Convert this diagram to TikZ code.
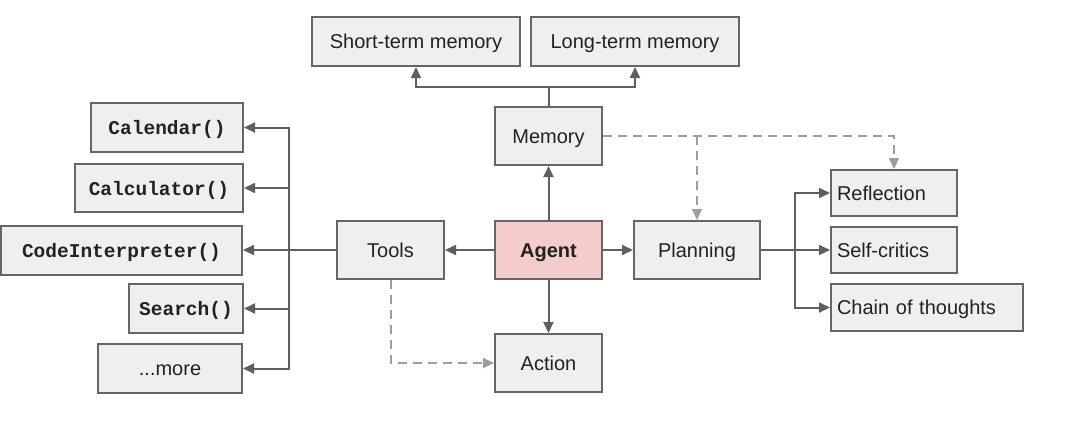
\documentclass[tikz,border=0pt]{standalone}
\usepackage{fontspec}
\setmainfont{Liberation Sans}
\newfontfamily\codefont{Liberation Mono}
\usetikzlibrary{arrows.meta}
\definecolor{boxfill}{HTML}{EFEFEF}
\definecolor{boxline}{HTML}{666666}
\definecolor{arrline}{HTML}{5F5F5F}
\definecolor{dashline}{HTML}{9E9E9E}
\definecolor{agentfill}{HTML}{F4CCCC}
\definecolor{txt}{HTML}{222222}
\begin{document}
\begin{tikzpicture}[x=1pt,y=-1pt,
  box/.style={draw=boxline, fill=boxfill, line width=2pt, inner sep=0pt,
    text=txt, font=\fontsize{20}{24}\selectfont, text height=16pt, text depth=1.7pt},
  lbox/.style={box, align=left, text width=#1, inner xsep=6pt},
  codebox/.style={box, font=\fontsize{19.5}{24}\selectfont\codefont\bfseries},
  arr/.style={draw=arrline, line width=2pt, -{Triangle[length=11pt,width=10pt]}},
  plain/.style={draw=arrline, line width=2pt},
  darr/.style={draw=dashline, line width=2pt, dash pattern=on 9pt off 6pt,
    -{Triangle[length=11pt,width=10pt]}},
  dplain/.style={draw=dashline, line width=2pt, dash pattern=on 9pt off 6pt}
]
\useasboundingbox (0,0) rectangle (1080,426);

% memory group
\node[box, minimum width=208, minimum height=49] (stm) at (416,41.5) {Short-term memory};
\node[box, minimum width=208, minimum height=49] (ltm) at (635,41.5) {Long-term memory};
\node[box, minimum width=107, minimum height=58] (mem) at (548.5,136) {Memory};

% tools group
\node[codebox, minimum width=152, minimum height=49] (cal) at (167,127.5) {Calendar()};
\node[codebox, minimum width=168, minimum height=48] (calc) at (159,188) {Calculator()};
\node[codebox, minimum width=241, minimum height=49] (code) at (121.5,250) {CodeInterpreter()};
\node[codebox, minimum width=114, minimum height=49] (search) at (186,308.5) {Search()};
\node[box, minimum width=144, minimum height=49] (more) at (170,368.5) {...more};
\node[box, minimum width=107, minimum height=58] (tools) at (390.5,250) {Tools};

% center
\node[box, fill=agentfill, minimum width=107, minimum height=58, font=\fontsize{20}{24}\selectfont\bfseries] (agent) at (548.5,250) {Agent};
\node[box, minimum width=126, minimum height=58] (plan) at (697,250) {Planning};
\node[box, minimum width=107, minimum height=58] (action) at (548.5,363) {Action};

% planning group
\node[lbox=114pt, minimum height=46] (refl) at (894,193) {Reflection};
\node[lbox=114pt, minimum height=46] (self) at (894,250) {Self-critics};
\node[lbox=180pt, minimum height=47] (chain) at (927,307.5) {Chain of thoughts};

% bus coordinates
\coordinate (mbus) at (548.5,87);
\coordinate (tbus) at (289,250);
\coordinate (pbus) at (795,250);
\coordinate (dbr) at (697,136);

% memory connectors
\draw[plain] (mem.north) -- (mbus);
\draw[arr] (mbus) -| (stm.south);
\draw[arr] (mbus) -| (ltm.south);

% agent connectors
\draw[arr] (agent.north) -- (mem.south);
\draw[arr] (agent.west) -- (tools.east);
\draw[arr] (agent.east) -- (plan.west);
\draw[arr] (agent.south) -- (action.north);

% tools connectors
\draw[plain] (tools.west) -- (tbus);
\draw[arr] (tbus) |- (cal.east);
\draw[arr] (tbus) |- (calc.east);
\draw[arr] (tbus) -- (code.east);
\draw[arr] (tbus) |- (search.east);
\draw[arr] (tbus) |- (more.east);

% planning connectors
\draw[plain] (plan.east) -- (pbus);
\draw[arr] (pbus) |- (refl.west);
\draw[arr] (pbus) -- (self.west);
\draw[arr] (pbus) |- (chain.west);

% dashed connectors
\draw[darr] (mem.east) -| (refl.north);
\draw[darr] (dbr) -- (plan.north);
\draw[darr] (tools.south) |- (action.west);
\end{tikzpicture}
\end{document}
